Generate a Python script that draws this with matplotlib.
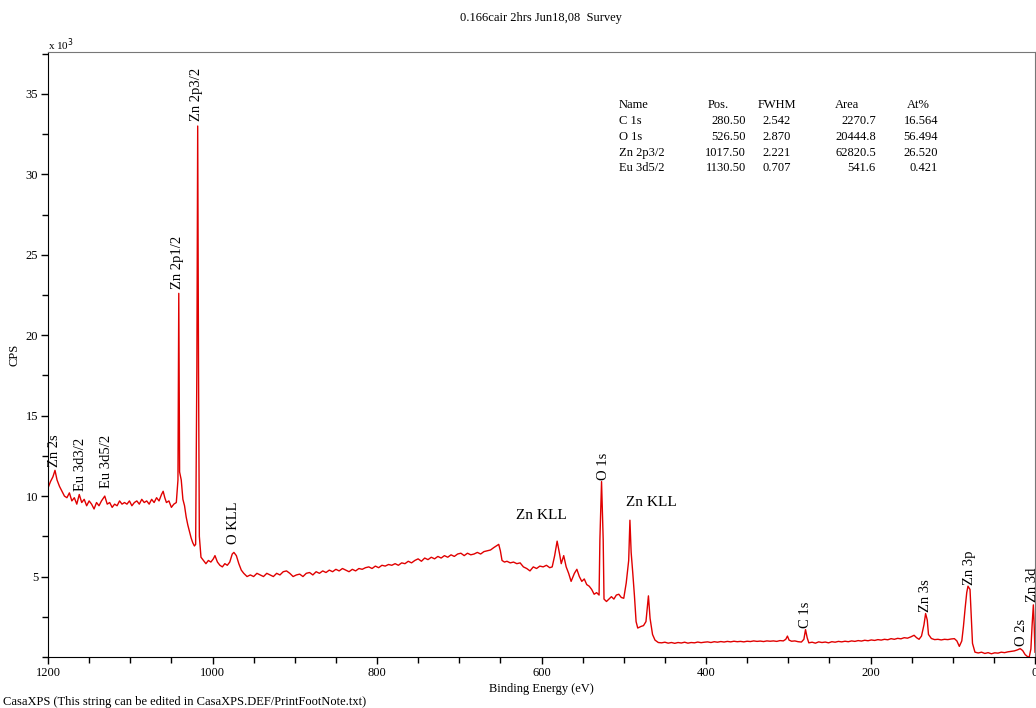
import matplotlib.pyplot as plt
from matplotlib.ticker import MultipleLocator

# survey spectrum: binding energy (eV) and counts per second (x 10^3)
be = [1200, 1197, 1194, 1191.5, 1189, 1186, 1183, 1180, 1177, 1174, 1171, 1168, 1165, 1162, 1159,
      1156, 1153, 1150, 1147, 1144, 1141, 1138, 1135, 1131, 1128, 1125, 1122, 1119, 1116, 1113,
      1110, 1107, 1104, 1101, 1098, 1095, 1092, 1089, 1086, 1083, 1080, 1077, 1074, 1071, 1068,
      1065, 1062, 1060, 1058, 1056, 1053, 1050, 1047, 1044, 1042, 1041, 1040, 1038, 1036, 1034,
      1032, 1030, 1028, 1026, 1024, 1022, 1020.5, 1019, 1018, 1017, 1016, 1014, 1011, 1008, 1005,
      1002, 999, 997, 994, 991, 988, 985, 982, 979, 976, 974, 971, 968, 965, 962,
      958, 954, 950, 946, 942, 938, 934, 930, 926, 922, 918, 914, 910, 906, 902,
      898, 894, 890, 886, 882, 878, 874, 870, 866, 862, 858, 854, 850, 846, 842,
      838, 834, 830, 826, 822, 818, 814, 810, 806, 802, 798, 794, 790, 786, 782,
      778, 774, 770, 766, 762, 758, 754, 750, 746, 742, 738, 734, 730, 726, 722,
      718, 714, 710, 706, 702, 698, 694, 690, 686, 682, 678, 674, 670, 666, 662,
      658, 655, 652, 650, 648, 645, 642, 638, 634, 630, 626, 622, 618, 614, 610,
      606, 602, 598, 594, 590, 587, 584, 581, 578, 576, 573, 570, 567, 564, 560,
      557, 554, 551, 548, 545, 542, 539, 536, 533, 530, 529, 527, 525, 524, 521,
      518, 515, 512, 509, 506, 503, 500, 497, 494, 492.5, 491, 489, 487, 485, 483,
      479, 476, 473, 470, 468, 465, 462, 458, 454, 450, 446, 442, 438, 434, 430,
      426, 422, 418, 414, 410, 406, 402, 398, 394, 390, 386, 382, 378, 374, 370,
      366, 362, 358, 354, 350, 346, 342, 338, 334, 330, 326, 322, 318, 314, 310,
      306, 303, 301, 299, 296, 292, 288, 284, 281, 279, 277, 275, 271, 267, 263,
      259, 255, 251, 247, 243, 239, 235, 231, 227, 223, 219, 215, 211, 207, 203,
      199, 195, 191, 187, 183, 179, 175, 171, 167, 163, 159, 155, 151, 147, 144,
      141, 138, 135, 133, 131, 129.5, 126, 122, 118, 114, 110, 106, 102, 98, 95,
      92, 89, 87, 85, 83, 81.5, 79, 77.5, 76, 73, 69, 65, 61, 57, 53,
      49, 45, 41, 37, 33, 29, 25, 21, 18, 15, 12, 9, 7, 5, 3.5,
      2, 1, 0]
cps_k = [10.5, 10.9, 11.2, 11.6, 11.0, 10.6, 10.3, 10.0, 9.9, 10.2, 9.7, 9.9, 9.5, 10.1, 9.6,
         9.8, 9.4, 9.7, 9.5, 9.2, 9.6, 9.4, 9.7, 10.0, 9.5, 9.6, 9.3, 9.5, 9.4, 9.7,
         9.5, 9.6, 9.5, 9.7, 9.4, 9.6, 9.7, 9.5, 9.8, 9.6, 9.7, 9.5, 9.8, 9.6, 9.9,
         9.7, 10.1, 10.3, 9.9, 9.6, 9.7, 9.3, 9.5, 9.6, 11.0, 22.6, 11.5, 11.0, 9.8, 9.4,
         8.7, 8.2, 7.8, 7.4, 7.1, 6.9, 7.0, 18.0, 33.0, 18.0, 7.5, 6.2, 6.0, 5.8, 6.0,
         5.9, 6.1, 6.3, 5.9, 5.7, 5.6, 5.8, 5.7, 5.9, 6.4, 6.5, 6.3, 5.8, 5.4, 5.2,
         5.0, 5.1, 5.0, 5.2, 5.1, 5.0, 5.2, 5.1, 5.0, 5.2, 5.1, 5.3, 5.35, 5.2, 5.0,
         5.1, 5.15, 5.0, 5.2, 5.25, 5.1, 5.3, 5.2, 5.35, 5.25, 5.4, 5.3, 5.45, 5.35, 5.5,
         5.4, 5.3, 5.45, 5.35, 5.5, 5.45, 5.55, 5.6, 5.5, 5.65, 5.55, 5.7, 5.65, 5.75, 5.7,
         5.8, 5.7, 5.85, 5.8, 5.95, 5.85, 6.0, 6.1, 5.95, 6.15, 6.05, 6.2, 6.1, 6.25, 6.15,
         6.3, 6.2, 6.35, 6.25, 6.4, 6.45, 6.3, 6.45, 6.35, 6.4, 6.5, 6.4, 6.55, 6.6, 6.65,
         6.8, 6.9, 7.0, 6.6, 6.0, 5.9, 5.95, 5.85, 5.9, 5.8, 5.85, 5.6, 5.5, 5.35, 5.6,
         5.5, 5.65, 5.6, 5.7, 5.55, 5.6, 6.3, 7.2, 6.4, 5.8, 6.3, 5.6, 5.2, 4.7, 5.2,
         5.45, 5.0, 4.7, 4.85, 4.5, 4.4, 4.2, 3.9, 4.0, 3.85, 7.3, 10.9, 7.3, 3.6, 3.45,
         3.6, 3.75, 3.6, 3.85, 3.9, 3.7, 3.65, 4.6, 6.0, 8.5, 6.5, 5.2, 3.8, 2.2, 1.8,
         1.9, 1.95, 2.2, 3.8, 2.4, 1.4, 1.05, 0.9, 0.88, 0.92, 0.86, 0.9, 0.85, 0.9, 0.87,
         0.92, 0.86, 0.9, 0.88, 0.93, 0.89, 0.92, 0.94, 0.9, 0.95, 0.92, 0.96, 0.93, 0.97, 0.94,
         0.98, 0.95, 0.97, 0.94, 0.98, 0.96, 1.0, 0.97, 0.99, 0.96, 1.0, 0.98, 1.0, 0.97, 1.02,
         1.0, 1.1, 1.3, 1.05, 0.98, 1.0, 0.95, 0.93, 1.1, 1.7, 1.2, 0.88, 0.92, 0.86, 0.94,
         0.9, 0.93, 0.88, 0.95, 0.92, 0.97, 0.94, 0.98, 0.95, 1.0, 0.97, 1.02, 0.99, 1.04, 1.01,
         1.06, 1.03, 1.08, 1.05, 1.1, 1.07, 1.14, 1.1, 1.16, 1.13, 1.2, 1.17, 1.25, 1.35, 1.2,
         1.1, 1.3, 2.0, 2.7, 2.3, 1.4, 1.15, 1.08, 1.1, 1.06, 1.1, 1.08, 1.12, 1.14, 1.0,
         0.66, 1.0, 1.9, 3.0, 4.0, 4.4, 4.2, 2.5, 0.85, 0.3, 0.25, 0.3, 0.22, 0.27, 0.2,
         0.26, 0.24, 0.3, 0.27, 0.32, 0.35, 0.38, 0.45, 0.52, 0.4, 0.15, 0.02, 0.0, 0.5, 2.0,
         3.24, 2.0, 0.3]

# peak labels: text, binding energy, height (x 10^3), rotation
label_text = ["Zn 2s", "Eu 3d3/2", "Eu 3d5/2", "Zn 2p1/2", "Zn 2p3/2", "O KLL", "Zn KLL",
              "O 1s", "Zn KLL", "C 1s", "Zn 3s", "Zn 3p", "O 2s", "Zn 3d"]
label_be = [1192, 1161, 1129, 1043, 1019, 974, 600, 524.5, 466, 279, 133, 80, 17, 3.5]
label_y = [11.8, 10.3, 10.5, 22.9, 33.3, 7.0, 8.4, 11.0, 9.2, 1.8, 2.8, 4.5, 0.7, 3.4]
label_rot = [90, 90, 90, 90, 90, 90, 0, 90, 0, 90, 90, 90, 90, 90]

# quantification table
tbl_names = ["C 1s", "O 1s", "Zn 2p3/2", "Eu 3d5/2"]
tbl_pos = ["280.50", "526.50", "1017.50", "1130.50"]
tbl_fwhm = ["2.542", "2.870", "2.221", "0.707"]
tbl_area = ["2270.7", "20444.8", "62820.5", "541.6"]
tbl_at = ["16.564", "56.494", "26.520", "0.421"]

plt.rcParams['font.family'] = ['Liberation Serif', 'DejaVu Serif']
fig = plt.figure(figsize=(10.36, 7.08), dpi=100)
ax = fig.add_axes([48 / 1036, 51 / 708, 987 / 1036, 605 / 708])

ax.plot(be, cps_k, color='#e00000', linewidth=1.0)
ax.set_xlim(1200, 0)
ax.set_ylim(0, 37.6)

ax.xaxis.set_major_locator(MultipleLocator(200))
ax.xaxis.set_minor_locator(MultipleLocator(50))
ax.yaxis.set_minor_locator(MultipleLocator(2.5))
ax.set_yticks([5, 10, 15, 20, 25, 30, 35])
ax.tick_params(which='both', direction='out', labelsize=9, width=1)
ax.tick_params(which='major', length=5)
ax.tick_params(which='minor', length=4)
ax.tick_params(axis='y', pad=2)
ax.tick_params(axis='x', pad=2)
for s in ['top', 'right']:
    ax.spines[s].set_color('#777777')

for t, x, y, r in zip(label_text, label_be, label_y, label_rot):
    if r == 90:
        ax.text(x, y, t, rotation=90, ha='center', va='bottom', fontsize=10.5, clip_on=False)
    else:
        ax.text(x, y, t, ha='center', va='bottom', fontsize=11)


def px(x, y):
    # figure fraction from pixel position
    return x / 1036, 1 - y / 708


rows_y = [121, 137, 153, 168]
fs = 9
fig.text(*px(619, 105), "Name", fontsize=fs, va='center')
fig.text(*px(718, 105), "Pos.", fontsize=fs, va='center', ha='center')
fig.text(*px(777, 105), "FWHM", fontsize=fs, va='center', ha='center')
fig.text(*px(847, 105), "Area", fontsize=fs, va='center', ha='center')
fig.text(*px(918, 105), "At%", fontsize=fs, va='center', ha='center')
for i, yy in enumerate(rows_y):
    fig.text(*px(619, yy), tbl_names[i], fontsize=fs, va='center')
    fig.text(*px(746, yy), tbl_pos[i], fontsize=fs, va='center', ha='right')
    fig.text(*px(791, yy), tbl_fwhm[i], fontsize=fs, va='center', ha='right')
    fig.text(*px(876, yy), tbl_area[i], fontsize=fs, va='center', ha='right')
    fig.text(*px(938, yy), tbl_at[i], fontsize=fs, va='center', ha='right')

fig.text(*px(541, 18), "0.166cair 2hrs Jun18,08  Survey", fontsize=9, ha='center', va='center')
fig.text(*px(48, 45), "x 10$^3$", fontsize=8, ha='left', va='center')
fig.text(*px(541, 689), "Binding Energy (eV)", fontsize=9, ha='center', va='center')
fig.text(*px(14, 355), "CPS", fontsize=9, ha='center', va='center', rotation=90)
fig.text(*px(3, 702), "CasaXPS (This string can be edited in CasaXPS.DEF/PrintFootNote.txt)",
         fontsize=9, ha='left', va='center')

fig.savefig('out.png', dpi=100)
